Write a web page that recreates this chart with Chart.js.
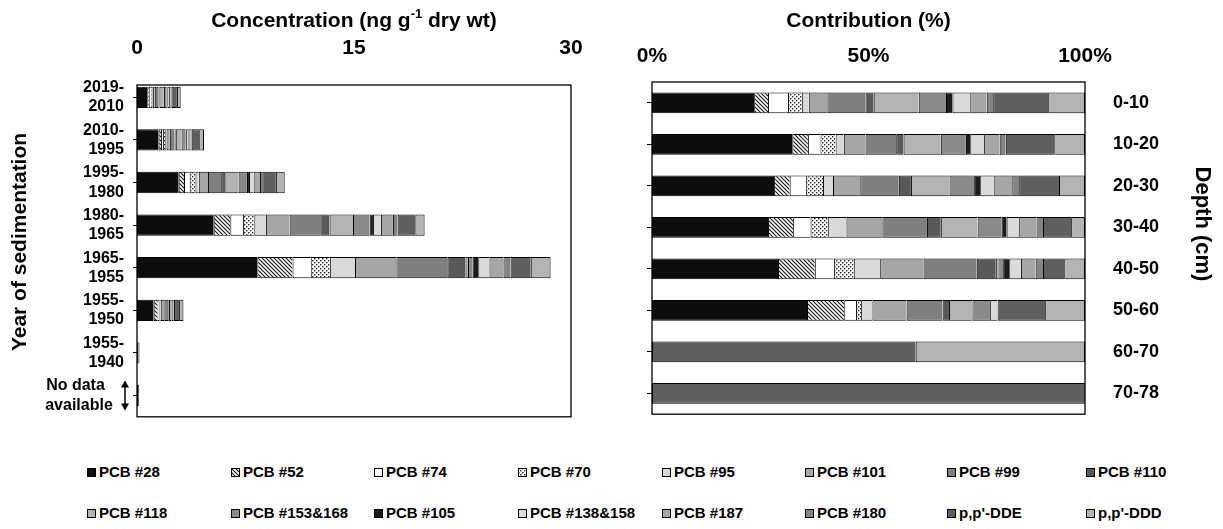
<!DOCTYPE html>
<html><head><meta charset="utf-8">
<script src="https://cdn.jsdelivr.net/npm/chart.js@4.4.0/dist/chart.umd.min.js"></script>
<style>
html,body{margin:0;padding:0;background:#fff;width:1223px;height:529px;overflow:hidden;font-family:"Liberation Sans",Arial,sans-serif;}
#wrap{position:relative;width:1223px;height:529px;}
#c1{position:absolute;left:0;top:0;width:620px;height:445px;}
#c2{position:absolute;left:620px;top:0;width:603px;height:445px;}
.item{position:absolute;font-weight:bold;font-size:15px;white-space:nowrap;display:flex;align-items:center;color:#000;line-height:18px;}
.item canvas{margin-right:3px;}
</style></head>
<body><div id="wrap">
<canvas id="c1" width="620" height="445"></canvas>
<canvas id="c2" width="603" height="445"></canvas>
<div id="legend"></div>
</div>
<script>
// ---------- data ----------
const periods = [["2019-","2010"],["2010-","1995"],["1995-","1980"],["1980-","1965"],["1965-","1955"],["1955-","1950"],["1955-","1940"],["No data","available"]];
const depths = ["0-10","10-20","20-30","30-40","40-50","50-60","60-70","70-78"];
const compounds = ["PCB #28","PCB #52","PCB #74","PCB #70","PCB #95","PCB #101","PCB #99","PCB #110","PCB #118","PCB #153&168","PCB #105","PCB #138&158","PCB #187","PCB #180","p,p'-DDE","p,p'-DDD"];
const concTicks = [0, 15, 30];
const pctTicks = [0, 50, 100];

// concentration (ng g-1 dry wt) per compound, one value per period
const c28  = [0.71,1.49,2.88,5.30,8.32,1.15,0,0];
const c52  = [0.10,0.17,0.37,1.15,2.43,0.28,0,0];
const c74  = [0.14,0.13,0.39,0.87,1.26,0.09,0,0];
const c70  = [0.10,0.16,0.40,0.79,1.32,0.04,0,0];
const c95  = [0.05,0.09,0.23,0.80,1.74,0.08,0,0];
const c101 = [0.13,0.23,0.64,1.64,2.86,0.25,0,0];
const c99  = [0.26,0.33,0.91,2.12,3.52,0.27,0,0];
const c110 = [0.06,0.08,0.29,0.64,1.26,0.05,0,0];
const c118 = [0.31,0.40,0.91,1.62,0.17,0.17,0,0];
const c153 = [0.19,0.27,0.58,1.15,0.31,0.13,0,0];
const c105 = [0.05,0.05,0.14,0.23,0.40,0,0,0];
const c138 = [0.12,0.15,0.32,0.55,0.77,0.05,0,0];
const c187 = [0.11,0.17,0.44,0.83,0.97,0,0,0];
const c180 = [0.05,0.06,0.16,0.32,0.49,0,0,0];
const cDDE = [0.38,0.52,0.94,1.23,1.40,0.35,0.10,0.15];
const cDDD = [0.26,0.33,0.61,0.64,1.37,0.30,0.07,0];

// contribution (%) per compound, one value per depth
const p28  = [23.6,32.4,28.2,26.8,29.1,35.8,0,0];
const p52  = [3.2,3.6,3.6,5.8,8.5,8.6,0,0];
const p74  = [4.6,2.9,3.8,4.0,4.4,2.7,0,0];
const p70  = [3.2,3.5,3.9,4.0,4.6,1.2,0,0];
const p95  = [1.6,1.9,2.3,4.3,6.1,2.6,0,0];
const p101 = [4.3,5.0,6.3,8.3,10.0,7.9,0,0];
const p99  = [8.8,7.1,8.9,10.3,12.3,8.3,0,0];
const p110 = [1.9,1.7,2.8,3.2,4.4,1.5,0,0];
const p118 = [10.4,8.6,8.9,8.5,0.6,5.4,0,0];
const p153 = [6.3,5.8,5.7,5.5,1.1,4.1,0,0];
const p105 = [1.5,1.0,1.4,1.2,1.4,0,0,0];
const p138 = [4.1,3.2,3.1,2.9,2.7,1.7,0,0];
const p187 = [3.8,3.6,4.3,4.0,3.4,0,0,0];
const p180 = [1.5,1.4,1.6,1.5,1.7,0,0,0];
const pDDE = [12.7,11.2,9.2,6.5,4.9,11.0,60.9,100];
const pDDD = [8.5,7.1,6.0,3.2,4.8,9.2,39.1,0];

const concSeries = [c28,c52,c74,c70,c95,c101,c99,c110,c118,c153,c105,c138,c187,c180,cDDE,cDDD];
const pctSeries  = [p28,p52,p74,p70,p95,p101,p99,p110,p118,p153,p105,p138,p187,p180,pDDE,pDDD];

// ---------- styles ----------
const FONT = '"Liberation Sans", Arial, Helvetica, sans-serif';
function hatchPattern(g){
  const n=4;
  const c=document.createElement('canvas'); c.width=n; c.height=n;
  const h=c.getContext('2d'); h.fillStyle='#fff'; h.fillRect(0,0,n,n);
  h.strokeStyle='#1a1a1a'; h.lineWidth=1.2; h.beginPath();
  for(let k=-1;k<=1;k++){ h.moveTo(k*n-1,-1); h.lineTo(k*n+n+1,n+1); }
  h.stroke(); return g.createPattern(c,'repeat');
}
function dotPattern(g){
  const c=document.createElement('canvas'); c.width=4; c.height=4;
  const h=c.getContext('2d'); h.fillStyle='#fff'; h.fillRect(0,0,4,4);
  h.fillStyle='#222'; h.fillRect(0,0,1.4,1.4); h.fillRect(2,2,1.4,1.4);
  return g.createPattern(c,'repeat');
}
const baseCtx = document.createElement('canvas').getContext('2d');
const hatch = hatchPattern(baseCtx), dots = dotPattern(baseCtx);
const fills = ['#0d0d0d',hatch,'#ffffff',dots,'#d9d9d9','#a6a6a6','#7f7f7f','#595959','#b3b3b3','#8a8a8a','#1c1c1c','#dadada','#a6a6a6','#848484','#5f5f5f','#b3b3b3'];

function datasets(series){
  return compounds.map((n,i)=>({
    label:n, data:series[i], backgroundColor:fills[i], borderColor:'#000',
    borderWidth:{top:1,bottom:1,left:1,right:i===compounds.length-1?1:0},
    borderSkipped:false, categoryPercentage:1, barPercentage:0.5
  }));
}
const tickFont = {family:FONT, weight:'bold', size:21};
const TITLE_Y = 21;

// ---------- text / frame plugins ----------
const leftDecor = {
  id:'leftDecor',
  afterDraw(chart){
    const ctx=chart.ctx, x=chart.scales.x, y=chart.scales.y;
    ctx.save();
    ctx.strokeStyle='#000'; ctx.lineWidth=1.3;
    ctx.strokeRect(x.left, 85, x.right-x.left, y.bottom-85);
    ctx.fillStyle='#000';
    const big='bold 21px '+FONT, small='bold 13px '+FONT;
    const s1='Concentration (ng g', s2='-1', s3=' dry wt)';
    ctx.font=big; const w1=ctx.measureText(s1).width, w3=ctx.measureText(s3).width;
    ctx.font=small; const w2=ctx.measureText(s2).width;
    let sx=(x.left+x.right)/2-(w1+w2+w3)/2, ty=TITLE_Y;
    ctx.textBaseline='middle'; ctx.textAlign='left';
    ctx.font=big; ctx.fillText(s1,sx,ty); sx+=w1;
    ctx.font=small; ctx.fillText(s2,sx,ty-7); sx+=w2;
    ctx.font=big; ctx.fillText(s3,sx,ty);
    ctx.save(); ctx.translate(20,242); ctx.rotate(-Math.PI/2);
    ctx.textAlign='center'; ctx.font=big; ctx.fillText('Year of sedimentation',0,0); ctx.restore();
    const ay=y.getPixelForValue(7), ax=125;
    ctx.lineWidth=1.5; ctx.beginPath(); ctx.moveTo(ax,ay-10); ctx.lineTo(ax,ay+10); ctx.stroke();
    ctx.beginPath(); ctx.moveTo(ax,ay-15); ctx.lineTo(ax-4,ay-8); ctx.lineTo(ax+4,ay-8); ctx.closePath(); ctx.fill();
    ctx.beginPath(); ctx.moveTo(ax,ay+15); ctx.lineTo(ax-4,ay+8); ctx.lineTo(ax+4,ay+8); ctx.closePath(); ctx.fill();
    ctx.restore();
  }
};
const rightDecor = {
  id:'rightDecor',
  afterDraw(chart){
    const ctx=chart.ctx, a=chart.chartArea;
    ctx.save();
    ctx.strokeStyle='#000'; ctx.lineWidth=1.3;
    ctx.strokeRect(a.left, a.top, a.right-a.left, a.bottom-a.top);
    ctx.fillStyle='#000'; ctx.font='bold 21px '+FONT; ctx.textAlign='center'; ctx.textBaseline='middle';
    ctx.fillText('Contribution (%)',(a.left+a.right)/2,TITLE_Y);
    ctx.save(); ctx.translate(1202-620,224); ctx.rotate(Math.PI/2);
    ctx.font='bold 22px '+FONT; ctx.fillText('Depth (cm)',0,0); ctx.restore();
    ctx.restore();
  }
};

// ---------- left chart ----------
new Chart(document.getElementById('c1'),{
  type:'bar',
  data:{labels:periods, datasets:datasets(concSeries)},
  options:{
    indexAxis:'y', responsive:false, animation:false, events:[],
    layout:{padding:{left:0,right:49,top:0,bottom:13}},
    plugins:{legend:{display:false}, tooltip:{enabled:false}},
    scales:{
      x:{position:'top', stacked:true, min:0, max:30,
         afterBuildTicks:s=>{s.ticks=concTicks.map(v=>({value:v}));},
         ticks:{font:tickFont, color:'#000', padding:7},
         grid:{display:false}, border:{display:false},
         afterFit:s=>{s.height=76;}},
      y:{stacked:true,
         ticks:{font:{family:FONT,weight:'bold',size:16}, color:'#000', padding:9,
                callback:(v,i)=> i===7 ? [periods[i][0]+'\u2002\u2002\u2009', periods[i][1]+'\u2002\u2009'] : periods[i]},
         grid:{drawOnChartArea:false, offset:false, tickLength:4, color:'#000', lineWidth:1},
         border:{display:false},
         afterFit:s=>{s.width=137;}}
    }
  },
  plugins:[leftDecor]
});

// ---------- right chart ----------
new Chart(document.getElementById('c2'),{
  type:'bar',
  data:{labels:depths, datasets:datasets(pctSeries)},
  options:{
    indexAxis:'y', responsive:false, animation:false, events:[],
    layout:{padding:{left:27,right:0,top:0,bottom:7}},
    plugins:{legend:{display:false}, tooltip:{enabled:false}},
    scales:{
      x:{position:'top', stacked:true, min:0, max:100,
         afterBuildTicks:s=>{s.ticks=pctTicks.map(v=>({value:v}));},
         ticks:{font:tickFont, color:'#000', padding:5, callback:v=>v+'%'},
         grid:{display:false}, border:{display:false},
         afterFit:s=>{s.height=82;}},
      y:{stacked:true, position:'right',
         ticks:{font:{family:FONT,weight:'bold',size:18}, color:'#000', padding:20},
         grid:{display:false}, border:{display:false},
         afterFit:s=>{s.width=138;}},
      yL:{type:'category', position:'left', labels:depths,
         ticks:{display:false},
         grid:{drawOnChartArea:false, offset:false, tickLength:5, color:'#000'},
         border:{display:false},
         afterFit:s=>{s.width=5;}}
    }
  },
  plugins:[rightDecor]
});

// ---------- legend (HTML) ----------
const colX=[87,231,374,518,662,805,947,1086], rowY=[472,513];
const lg=document.getElementById('legend');
compounds.forEach((n,i)=>{
  const d=document.createElement('div'); d.className='item';
  d.style.left=colX[i%8]+'px'; d.style.top=(rowY[Math.floor(i/8)]-9)+'px';
  const sw=document.createElement('canvas'); sw.width=9; sw.height=9;
  const g=sw.getContext('2d');
  g.fillStyle = i===1 ? hatchPattern(g) : (i===3 ? dotPattern(g) : fills[i]);
  g.fillRect(0,0,9,9);
  g.strokeStyle='#000'; g.lineWidth=1; g.strokeRect(0.5,0.5,8,8);
  d.appendChild(sw); d.appendChild(document.createTextNode(n)); lg.appendChild(d);
});
</script>
</body></html>
